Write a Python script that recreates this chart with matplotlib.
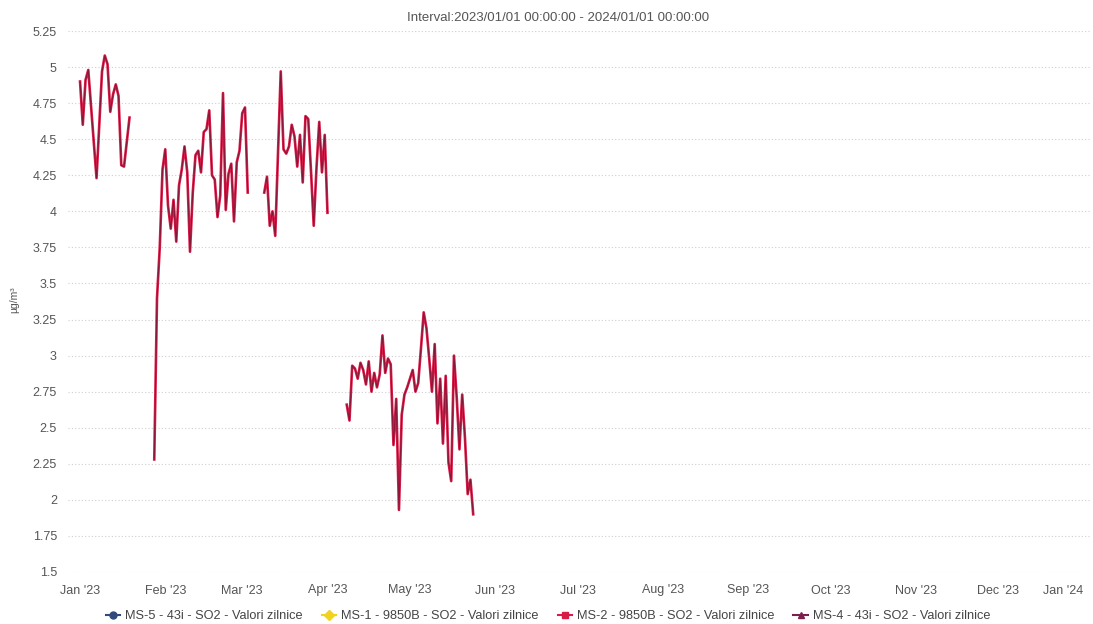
import matplotlib
matplotlib.use("Agg")
import matplotlib.pyplot as plt
import matplotlib.dates as mdates
import matplotlib.patheffects as pe
from matplotlib.lines import Line2D
from matplotlib.ticker import FuncFormatter
import numpy as np
import pandas as pd

plt.rcParams['font.family'] = ['Liberation Sans', 'DejaVu Sans']

# Daily SO2 averages (ug/m3) for MS-2, four measured stretches with gaps between
jan_start = '2023-01-01'
jan_vals = [4.90, 4.60, 4.91, 4.98, 4.73, 4.48, 4.23, 4.60, 4.97, 5.08,
            5.02, 4.69, 4.81, 4.88, 4.80, 4.32, 4.31, 4.48, 4.65]

feb_start = '2023-01-28'
feb_vals = [2.28, 3.40, 3.75, 4.29, 4.43, 4.04, 3.88, 4.08, 3.79, 4.18,
            4.29, 4.45, 4.27, 3.72, 4.13, 4.39, 4.42, 4.27, 4.55, 4.57,
            4.70, 4.25, 4.22, 3.96, 4.11, 4.82, 4.01, 4.26, 4.33, 3.93,
            4.34, 4.42, 4.68, 4.72, 4.13]

mar_start = '2023-03-09'
mar_vals = [4.13, 4.24, 3.90, 4.00, 3.83, 4.40, 4.97, 4.43, 4.40, 4.45,
            4.60, 4.52, 4.31, 4.53, 4.20, 4.66, 4.64, 4.28, 3.90, 4.30,
            4.62, 4.27, 4.53, 3.99]

apr_start = '2023-04-08'
apr_vals = [2.66, 2.55, 2.93, 2.91, 2.84, 2.95, 2.90, 2.80, 2.96, 2.75,
            2.88, 2.78, 2.87, 3.14, 2.88, 2.98, 2.94, 2.38, 2.70, 1.93,
            2.59, 2.73, 2.78, 2.84, 2.90, 2.75, 2.81, 3.05, 3.30, 3.19,
            2.98, 2.75, 3.08, 2.53, 2.84, 2.39, 2.86, 2.26, 2.13, 3.00,
            2.71, 2.35, 2.73, 2.43, 2.04, 2.14, 1.90]

series_names = ['MS-5 - 43i - SO2 - Valori zilnice',
                'MS-1 - 9850B - SO2 - Valori zilnice',
                'MS-2 - 9850B - SO2 - Valori zilnice',
                'MS-4 - 43i - SO2 - Valori zilnice']
series_colors = ['#2f4b7c', '#f2d21b', '#d81b47', '#7b1f4f']
series_markers = ['o', 'D', 's', '^']

y_ticks = [1.5, 1.75, 2, 2.25, 2.5, 2.75, 3, 3.25, 3.5, 3.75, 4, 4.25, 4.5, 4.75, 5, 5.25]

# stitch the stretches into one daily series, missing days become NaN
parts = []
for start, vals in [(jan_start, jan_vals), (feb_start, feb_vals),
                    (mar_start, mar_vals), (apr_start, apr_vals)]:
    parts.append(pd.Series(vals, index=pd.date_range(start, periods=len(vals), freq='D')))
ms2 = pd.concat(parts)
ms2 = ms2[~ms2.index.duplicated(keep='last')]
ms2 = ms2.reindex(pd.date_range(ms2.index.min(), ms2.index.max(), freq='D'))

fig = plt.figure(figsize=(10.93, 6.24), dpi=100)
ax = fig.add_axes([68 / 1093, 1 - 572 / 624, (1090 - 68) / 1093, (572 - 31) / 624])

ax.plot(ms2.index, ms2.values, color='#7a1838', lw=0.6,
        path_effects=[pe.Stroke(linewidth=1.9, foreground='#d81b47'), pe.Normal()],
        solid_joinstyle='round')

ax.set_ylim(1.5, 5.25)
ax.set_yticks(y_ticks)
ax.yaxis.set_major_formatter(FuncFormatter(lambda v, p: f'{v:g}'))
ax.set_xlim(pd.Timestamp('2022-12-27 15:00'), pd.Timestamp('2024-01-03 08:00'))
ax.xaxis.set_major_locator(mdates.MonthLocator())
ax.xaxis.set_major_formatter(mdates.DateFormatter("%b '%y"))

ax.grid(axis='y', linestyle=(0, (1, 2)), color='#cfcfcf', lw=0.8)
ax.set_axisbelow(True)
for s in ax.spines.values():
    s.set_visible(False)
ax.tick_params(axis='both', length=0, labelsize=9, labelcolor='#555555')
ax.tick_params(axis='y', pad=8)
ax.tick_params(axis='x', pad=9)
last = ax.get_xticklabels()[-1]
last.set_horizontalalignment('right')

fig.text(14 / 1093, 1 - 300 / 624, 'µg/m³', rotation=90, fontsize=7.5,
         color='#555555', ha='center', va='center')
fig.text(558 / 1093, 1 - 18 / 624, 'Interval:2023/01/01 00:00:00 - 2024/01/01 00:00:00',
         fontsize=9.5, color='#555555', ha='center', va='center')

handles = [Line2D([0], [0], color=c, marker=m, markersize=5, lw=1.5)
           for c, m in zip(series_colors, series_markers)]
fig.legend(handles, series_names, ncol=4, loc='center',
           bbox_to_anchor=(548 / 1093, 1 - 616 / 624), frameon=False,
           fontsize=9.2, labelcolor='#444444', handlelength=1.1,
           handletextpad=0.4, columnspacing=1.5)

fig.savefig('out.png', dpi=100)
